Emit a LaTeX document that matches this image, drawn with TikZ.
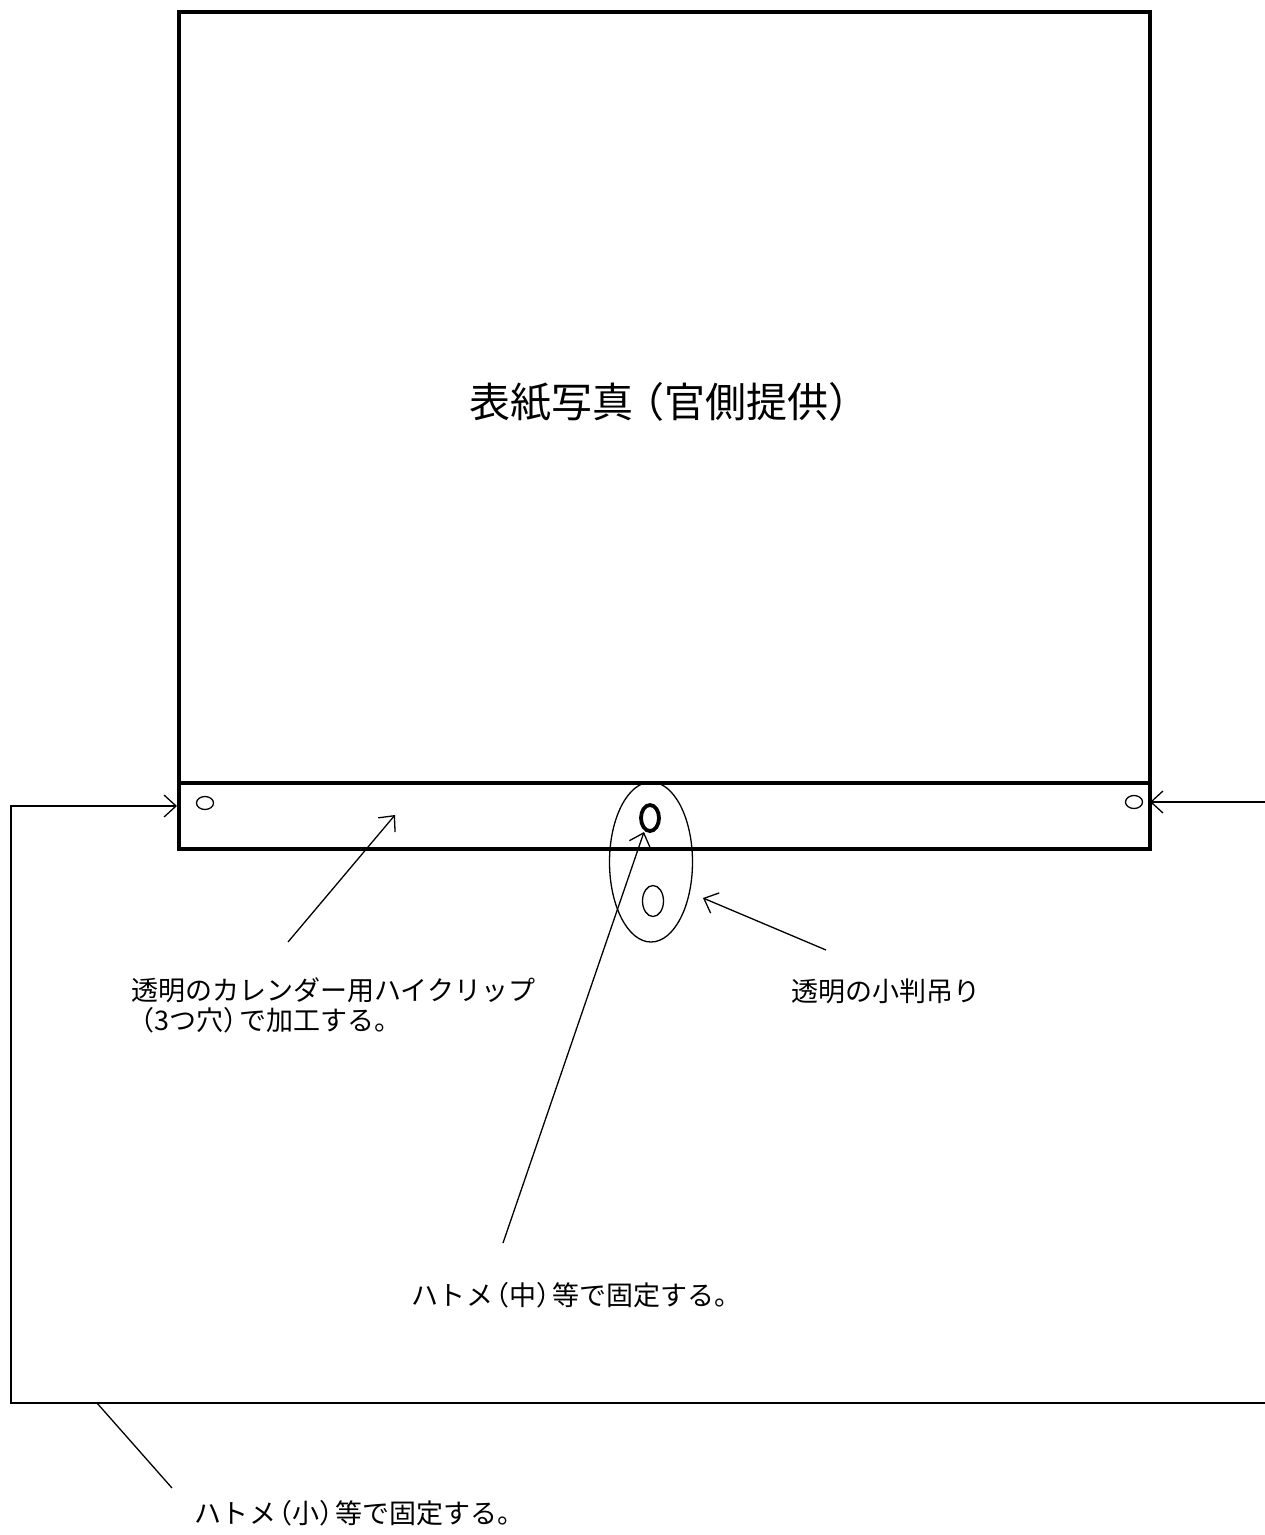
\documentclass[tikz,border=0pt]{standalone}
\usepackage{fontspec}
\newfontfamily\jp{Noto Sans CJK JP}
\usetikzlibrary{arrows.meta,shapes.geometric}
\newcommand{\lpar}[1][0.4em]{\kern-#1（}
\newcommand{\rpar}[1][0.4em]{）\kern-#1}
\begin{document}
\begin{tikzpicture}[x=1pt,y=-1pt,
  heavy/.style={line width=4pt},
  leader/.style={line width=1.3pt},
  tipped/.style={-{Straight Barb[length=12pt,width=22pt,line width=1.3pt]}},
  hole/.style={ellipse,draw,inner sep=0pt,line width=1.3pt},
  note/.style={font=\jp\fontsize{27}{30}\selectfont,anchor=west,inner sep=0pt,align=left},
  title/.style={font=\jp\fontsize{41}{48}\selectfont,inner sep=0pt}]
\useasboundingbox (0,0) rectangle (1265,1535);
% cover and clip strip
\draw[heavy] (179,12) rectangle (1150,849);
\draw[heavy] (179,783) -- (1150,783);
\node[title] (cover) at (664,402) {表紙写真\lpar[0.25em]官側提供\rpar[0.25em]};
% holes
\node[hole,minimum width=17pt,minimum height=13pt] (lhole) at (205,803) {};
\node[hole,minimum width=17pt,minimum height=13pt] (rhole) at (1134,802) {};
\node[hole,minimum width=83pt,minimum height=160pt] (hanger) at (651,862) {};
\node[ellipse,draw,inner sep=0pt,line width=3.8pt,minimum width=18pt,minimum height=26pt] (eyelet) at (650,818) {};
\node[hole,minimum width=21pt,minimum height=31pt] (lowhole) at (653,901) {};
% coordinates
\coordinate (lefttip) at (177,806);
\coordinate (leftcorner) at (11,806);
\coordinate (botcorner) at (11,1403);
\coordinate (botright) at (1265,1403);
\coordinate (righttip) at (1150,802);
\coordinate (rightend) at (1265,802);
\coordinate (stripin) at (395,815);
\coordinate (eyetip) at (644,832);
\coordinate (hangtip) at (703,898);
\coordinate (leadA) at (288,942);
\coordinate (leadB) at (503,1243);
\coordinate (leadC) at (826,950);
\coordinate (leadD0) at (97,1403);
\coordinate (leadD) at (172,1488);
% labels
\node[note] (clipnote) at (131,1005) {透明のカレンダー用ハイクリップ\\\lpar[0.15em]3つ穴\rpar で加工する。};
\node[note] (hangnote) at (791,991) {透明の小判吊り};
\node[note] (midnote) at (411,1295) {ハトメ\lpar 中\rpar 等で固定する。};
\node[note] (smallnote) at (194,1513) {ハトメ\lpar 小\rpar 等で固定する。};
% connectors
\draw[leader,tipped] (botright) -- (botcorner) -- (leftcorner) -- (lefttip);
\draw[leader,tipped] (rightend) -- (righttip);
\draw[leader] (leadD0) -- (leadD);
\draw[leader,tipped] (leadA) -- (stripin);
\draw[leader,tipped] (leadB) -- (eyetip);
\draw[leader,tipped] (leadC) -- (hangtip);
\end{tikzpicture}
\end{document}
